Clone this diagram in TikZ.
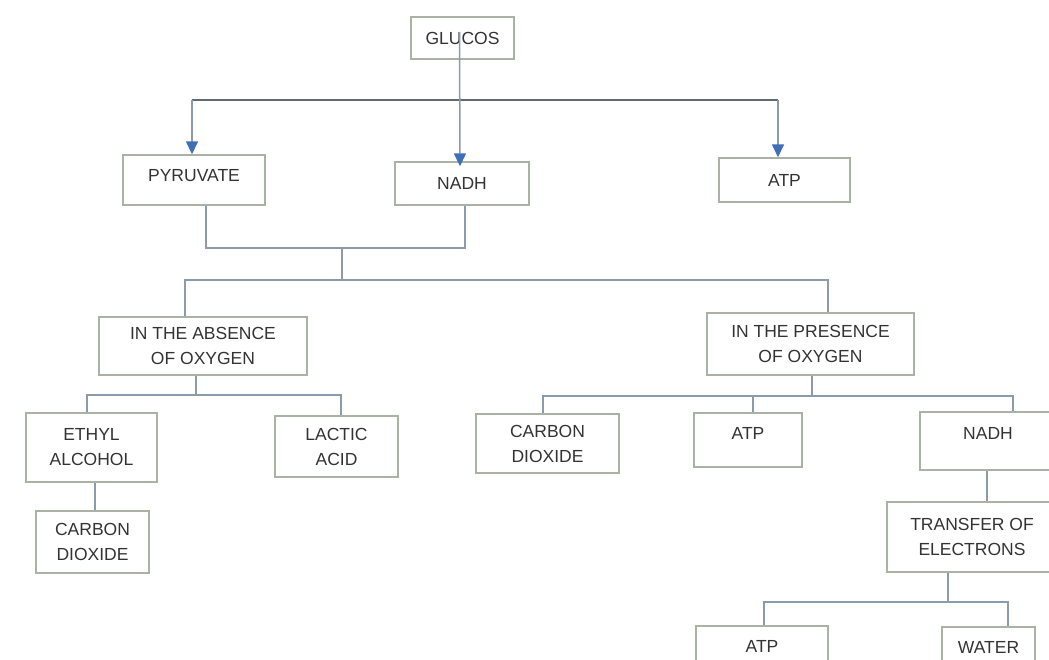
\documentclass[tikz,border=0pt]{standalone}
\usepackage{fontspec}
\setmainfont{Liberation Sans}
\usetikzlibrary{arrows.meta,calc}
\definecolor{boxc}{HTML}{A9B2A4}
\definecolor{linec}{HTML}{8C9BAB}
\definecolor{busc}{HTML}{5F6A74}
\definecolor{arrc}{HTML}{3F6FB5}
\definecolor{txtc}{HTML}{333333}
\begin{document}
\begin{tikzpicture}[x=1pt,y=-1pt,
  box/.style={draw=boxc,line width=1.4pt,inner sep=0pt,align=center,text=txtc,
    font=\fontsize{17.5}{25}\selectfont},
  conn/.style={draw=linec,line width=1.5pt},
  bus/.style={draw=busc,line width=2.8pt},
  arr/.style={draw=linec,line width=1.5pt,-{Triangle[width=12pt,length=13pt,color=arrc]}}]
\useasboundingbox (0,0) rectangle (1049,659);
% level 0/1
\node[box,minimum width=103pt,minimum height=42pt] (glucos) at (462.5,38) {GLUCOS};
\node[box,minimum width=142pt,minimum height=50pt,text depth=10pt] (pyr) at (194,180) {PYRUVATE};
\node[box,minimum width=134pt,minimum height=43pt] (nadha) at (462,183.5) {NADH};
\node[box,minimum width=131pt,minimum height=44pt] (atpa) at (784.5,180) {ATP};
% level 2
\node[box,minimum width=208pt,minimum height=58pt] (absence) at (203,346) {IN THE ABSENCE\\OF OXYGEN};
\node[box,minimum width=207pt,minimum height=62pt] (presence) at (810.5,344) {IN THE PRESENCE\\OF OXYGEN};
% level 3
\node[box,minimum width=131pt,minimum height=69pt] (ethyl) at (91.5,447.5) {ETHYL\\ALCOHOL};
\node[box,minimum width=113pt,minimum height=62pt] (co2a) at (92.5,542) {CARBON\\DIOXIDE};
\node[box,minimum width=123pt,minimum height=61pt] (lactic) at (336.5,446.5) {LACTIC\\ACID};
\node[box,minimum width=143pt,minimum height=59pt] (co2b) at (547.5,443.5) {CARBON\\DIOXIDE};
\node[box,minimum width=108pt,minimum height=54pt,text depth=14pt] (atpb) at (748,440) {ATP};
\node[box,minimum width=136pt,minimum height=58pt,text depth=16pt] (nadhb) at (988,441) {NADH};
\node[box,minimum width=170pt,minimum height=70pt] (transfer) at (972,537) {TRANSFER OF\\ELECTRONS};
\node[box,minimum width=132pt,minimum height=50pt,text depth=10pt] (atpc) at (762,651) {ATP};
\node[box,minimum width=93pt,minimum height=50pt,text depth=10pt] (water) at (988.5,652) {WATER};
% junctions
\coordinate (busL) at (192,100);
\coordinate (busR) at (778,100);
\coordinate (j1) at (342,248);
\coordinate (j2) at (342,280);
\coordinate (j3) at (196,395);
\coordinate (j4) at (812,396);
\coordinate (j5) at (948,602);
% connectors from glucose
\draw[bus] (busL) -- (busR);
\draw[arr] ($(glucos.center)+(-3pt,6pt)$) -- ([xshift=-2pt,yshift=-5pt]nadha.north);
\draw[arr] (busL) -- (busL |- pyr.north);
\draw[arr] (busR) -- (busR |- atpa.north);
% pyruvate + nadh
\draw[conn] ([xshift=12pt]pyr.south) |- (j1) -| ([xshift=3pt]nadha.south);
\draw[conn] (j1) -- (j2);
\draw[conn] ([xshift=-18pt]absence.north) |- (j2) -| ([xshift=17.5pt]presence.north);
% absence of oxygen
\draw[conn] ([xshift=-7pt]absence.south) -- (j3);
\draw[conn] ([xshift=-4.5pt]ethyl.north) |- (j3) -| ([xshift=4.5pt]lactic.north);
\draw[conn] ([xshift=3.5pt]ethyl.south) -- ([xshift=2.5pt]co2a.north);
% presence of oxygen
\draw[conn] ([xshift=1.5pt]presence.south) -- (j4);
\draw[conn] ([xshift=-4.5pt]co2b.north) |- (j4) -| ([xshift=25pt]nadhb.north);
\draw[conn] ([xshift=5pt]atpb.north |- j4) -- ([xshift=5pt]atpb.north);
\draw[conn] ([xshift=-1pt]nadhb.south) -- ([xshift=15pt]transfer.north);
% transfer of electrons
\draw[conn] ([xshift=-24pt]transfer.south) -- (j5);
\draw[conn] ([xshift=2pt]atpc.north) |- (j5) -| ([xshift=19.5pt]water.north);
\end{tikzpicture}
\end{document}
